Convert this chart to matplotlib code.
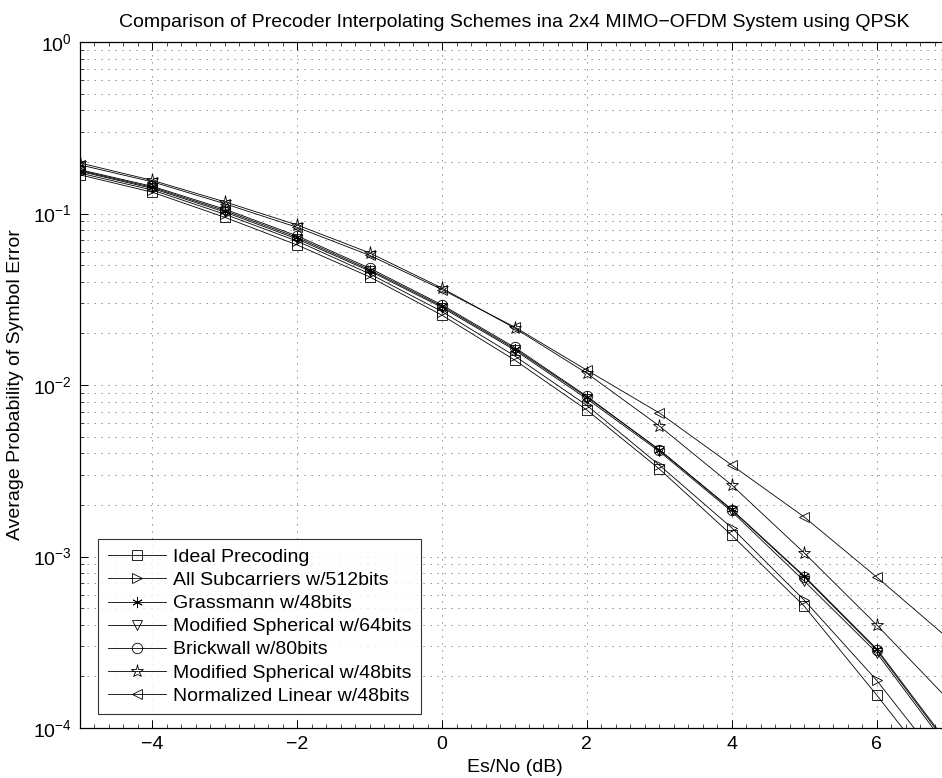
import matplotlib
matplotlib.use("Agg")
import matplotlib.pyplot as plt
from matplotlib.ticker import LogLocator, MultipleLocator, NullFormatter
import numpy as np

plt.rcParams['font.family'] = ['Liberation Sans', 'DejaVu Sans']
plt.rcParams['mathtext.fontset'] = 'custom'
plt.rcParams['mathtext.rm'] = 'Liberation Sans'

# Es/No points
snr = [-5, -4, -3, -2, -1, 0, 1, 2, 3, 4, 5, 6, 7]

ideal = [0.168, 0.133, 0.095, 0.0655, 0.0427, 0.0255, 0.0140, 0.00714, 0.00324, 0.00133, 0.000514, 0.000156, 4.5e-5]
allsub = [0.172, 0.137, 0.099, 0.069, 0.0445, 0.0268, 0.0148, 0.0076, 0.00341, 0.00147, 0.000557, 0.00019, 5.5e-5]
grass48 = [0.178, 0.142, 0.104, 0.0725, 0.047, 0.0288, 0.0163, 0.0085, 0.0042, 0.00188, 0.00077, 0.00029, 8.0e-5]
modsph64 = [0.176, 0.140, 0.102, 0.071, 0.0462, 0.0283, 0.0160, 0.0083, 0.0041, 0.00183, 0.00072, 0.000275, 7.5e-5]
brick80 = [0.180, 0.144, 0.106, 0.074, 0.048, 0.0293, 0.0166, 0.0086, 0.00418, 0.00187, 0.00076, 0.000285, 7.8e-5]
modsph48 = [0.197, 0.156, 0.117, 0.0857, 0.0589, 0.0367, 0.0215, 0.0117, 0.00577, 0.00261, 0.00105, 0.0004, 0.000145]
normlin48 = [0.192, 0.153, 0.114, 0.083, 0.057, 0.0360, 0.0218, 0.0122, 0.00687, 0.00341, 0.0017, 0.00076, 0.00033]

labels = ['Ideal Precoding', 'All Subcarriers w/512bits', 'Grassmann w/48bits',
          'Modified Spherical w/64bits', 'Brickwall w/80bits',
          'Modified Spherical w/48bits', 'Normalized Linear w/48bits']
series = [ideal, allsub, grass48, modsph64, brick80, modsph48, normlin48]
markers = ['s', '>', (6, 2, 0), 'v', 'o', '*', '<']

fig = plt.figure(figsize=(9.42, 7.78), dpi=100)
ax = fig.add_axes([80/942, 50/778, 869/942, 686/778])

for ys, lab, mk in zip(series, labels, markers):
    ms = 9.5 if mk == '*' else 7.5
    ax.plot(snr, ys, color='k', lw=0.6, marker=mk, ms=ms, mfc='none', mec='k', mew=0.6, label=lab)

ax.set_yscale('log')
ax.set_xlim(-5, 7)
ax.set_ylim(1e-4, 1)
ax.xaxis.set_minor_locator(MultipleLocator(0.2))
ax.yaxis.set_major_locator(LogLocator(base=10, numticks=10))
ax.yaxis.set_minor_locator(LogLocator(base=10, subs=np.arange(2, 10), numticks=20))
ax.yaxis.set_minor_formatter(NullFormatter())
ax.set_xticks([-4, -2, 0, 2, 4, 6])
ax.set_xticklabels(['\u22124', '\u22122', '0', '2', '4', '6'])

dots = (0, (1.2, 6.0))
ax.grid(True, which='major', axis='both', color='0.45', ls=dots, lw=0.7)
ax.grid(True, which='minor', axis='y', color='0.45', ls=dots, lw=0.7)
ax.tick_params(which='both', direction='in', top=True, right=True, labelsize=14)
ax.tick_params(which='major', length=6, width=0.7, pad=6)
ax.tick_params(which='minor', length=3, width=0.5)
for sp in ax.spines.values():
    sp.set_linewidth(0.9)

ax.set_title('Comparison of Precoder Interpolating Schemes ina 2x4 MIMO\u2212OFDM System using QPSK',
             fontsize=14, pad=11)
ax.set_xlabel('Es/No (dB)', fontsize=14, labelpad=4)
ax.set_ylabel('Average Probability of Symbol Error', fontsize=14, labelpad=6)

leg = ax.legend(loc='lower left', bbox_to_anchor=(0.021, 0.02), fontsize=14, frameon=True,
                fancybox=False, edgecolor='k', handlelength=3.0, borderpad=0.5,
                labelspacing=0.28, handletextpad=0.35, borderaxespad=0)
leg.get_frame().set_linewidth(0.8)

fig.savefig('out.png', dpi=100)
